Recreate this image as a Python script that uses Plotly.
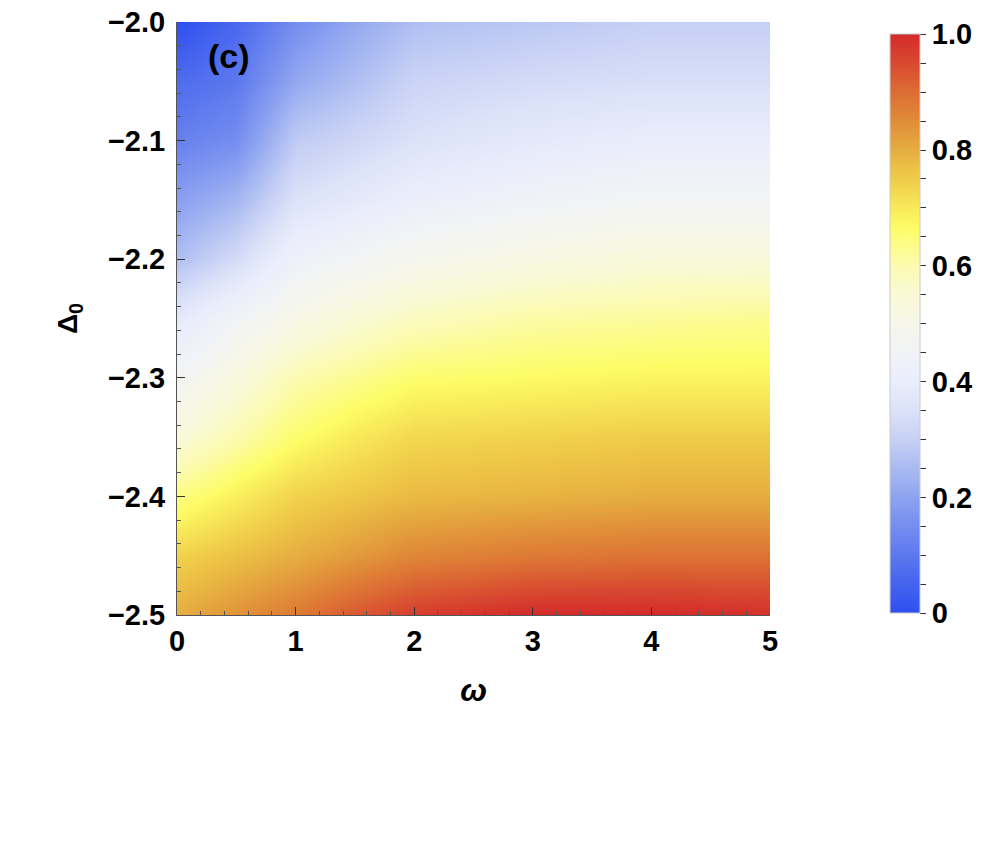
import plotly.graph_objects as go

# omega grid (x) and Delta_0 grid (y)
omega = [0, 0.5, 1, 1.5, 2, 3, 4, 5]
delta0 = [-2.50, -2.45, -2.40, -2.35, -2.30, -2.25, -2.20, -2.15, -2.10, -2.05, -2.00]

# one list per omega column, listed from Delta_0 = -2.5 up to -2.0
col_w0 = [0.80, 0.74, 0.64, 0.54, 0.46, 0.38, 0.26, 0.19, 0.12, 0.07, 0.00]
col_w05 = [0.84, 0.77, 0.69, 0.60, 0.53, 0.45, 0.33, 0.24, 0.15, 0.10, 0.06]
col_w1 = [0.88, 0.80, 0.74, 0.66, 0.60, 0.51, 0.43, 0.35, 0.29, 0.21, 0.15]
col_w15 = [0.93, 0.83, 0.76, 0.70, 0.63, 0.55, 0.46, 0.38, 0.32, 0.26, 0.21]
col_w2 = [0.97, 0.86, 0.78, 0.73, 0.66, 0.58, 0.49, 0.41, 0.35, 0.31, 0.26]
col_w3 = [1.00, 0.88, 0.79, 0.74, 0.67, 0.61, 0.52, 0.44, 0.38, 0.33, 0.28]
col_w4 = [1.00, 0.89, 0.80, 0.75, 0.68, 0.62, 0.54, 0.46, 0.40, 0.34, 0.30]
col_w5 = [0.99, 0.89, 0.80, 0.75, 0.68, 0.63, 0.54, 0.46, 0.40, 0.34, 0.30]

columns = [col_w0, col_w05, col_w1, col_w15, col_w2, col_w3, col_w4, col_w5]
z = [[col[i] for col in columns] for i in range(len(delta0))]

cbar_vals = [round(0.05 * k, 2) for k in range(21)]
cbar_text = ["0" if v == 0 else (f"{v:.1f}" if k % 4 == 0 else "") for k, v in enumerate(cbar_vals)]

# blue -> white -> yellow -> red, sampled from the colour bar
colorscale = [
    [0.00, "#2e4ff0"], [0.10, "#5c78ee"], [0.20, "#8ea3f0"], [0.26, "#afbff2"],
    [0.30, "#c6d0f5"], [0.35, "#dce2f8"], [0.40, "#eaedfb"], [0.45, "#f1f3f6"],
    [0.50, "#f6f6ea"], [0.55, "#f9f9d6"], [0.60, "#fbfbb0"], [0.667, "#fdfc66"],
    [0.75, "#f0cc48"], [0.80, "#e6ad40"], [0.85, "#e08c38"], [0.90, "#dc6c34"],
    [0.95, "#d84a30"], [1.00, "#d42a2a"],
]

FAMILY = "Liberation Sans, Arial, sans-serif"
bold = dict(family=FAMILY, size=29, color="black", weight="bold")

fig = go.Figure(go.Heatmap(
    x=omega, y=delta0, z=z,
    zmin=0, zmax=1, zsmooth="best",
    colorscale=colorscale,
    colorbar=dict(
        x=1.202, xanchor="left", xpad=0,
        y=0.003, yanchor="bottom", ypad=0,
        len=0.976, lenmode="fraction",
        thickness=30, thicknessmode="pixels",
        outlinewidth=1, outlinecolor="#cccccc",
        tickmode="array", tickvals=cbar_vals, ticktext=cbar_text,
        ticks="outside", ticklen=6, tickcolor="#333", tickwidth=1,
        tickfont=bold,
    ),
))

fig.update_xaxes(
    range=[0, 5], tickvals=[0, 1, 2, 3, 4, 5], automargin=False,
    ticks="inside", ticklen=8, tickcolor="#333",
    minor=dict(ticks="inside", ticklen=4, dtick=0.2, tickcolor="#555", showgrid=False),
    showline=True, linecolor="#555", linewidth=1, mirror=False,
    showgrid=False, zeroline=False,
    tickfont=bold,
    title=dict(text="<i>ω</i>", font=dict(family=FAMILY, size=32, color="black", weight="bold"), standoff=22),
)
fig.update_yaxes(
    range=[-2.5, -2.0], tickvals=[-2.5, -2.4, -2.3, -2.2, -2.1, -2.0], automargin=False,
    tickformat=".1f", ticklabelstandoff=5, ticklabeloverflow="allow",
    ticks="inside", ticklen=8, tickcolor="#333",
    minor=dict(ticks="inside", ticklen=4, dtick=0.02, tickcolor="#555", showgrid=False),
    showline=True, linecolor="#555", linewidth=1, mirror=False,
    showgrid=False, zeroline=False,
    tickfont=bold,
    title=dict(text="Δ<sub>0</sub>", font=dict(family=FAMILY, size=28, color="black", weight="bold"), standoff=22),
)

fig.add_annotation(
    xref="x", yref="y", x=0.44, y=-2.0287, text="(c)", showarrow=False,
    font=dict(family=FAMILY, size=34, color="black", weight="bold"),
)

fig.update_layout(
    width=980, height=830,
    margin=dict(l=169, r=218, t=14, b=223),
    paper_bgcolor="white", plot_bgcolor="white",
    showlegend=False,
)

fig.write_html("out.html")
